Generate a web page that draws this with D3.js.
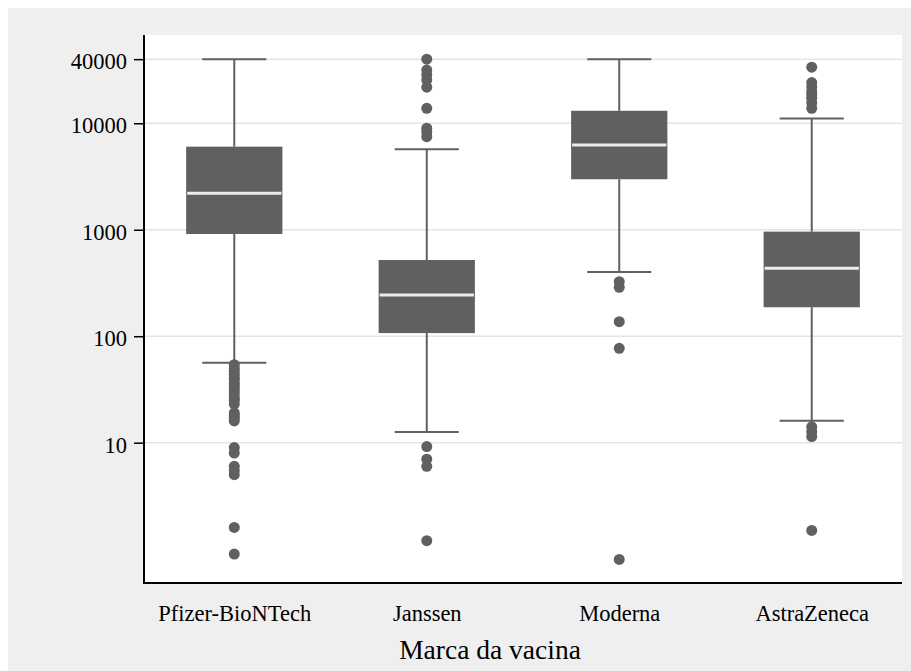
<!DOCTYPE html>
<html><head><meta charset="utf-8">
<script src="https://cdn.jsdelivr.net/npm/d3@7"></script>
<style>html,body{margin:0;padding:0;background:#fff;}svg{display:block;}</style>
</head><body>
<svg id="chart" width="911" height="671"></svg>
<script>
const categories = ["Pfizer-BioNTech", "Janssen", "Moderna", "AstraZeneca"];
const whiskerLow  = [56.4, 12.6, 401, 16.1];
const q1          = [912, 107, 2980, 187];
const median      = [2200, 244, 6250, 435];
const q3          = [6030, 520, 13100, 960];
const whiskerHigh = [40000, 5700, 40000, 11100];
const outliers = [
  [54, 50, 47, 44, 41, 39, 36, 34, 32, 30, 28, 26, 25, 23, 19, 18, 17, 16, 9, 8, 6, 5.5, 5, 1.6, 0.9],
  [40000, 31600, 28400, 25500, 21800, 13800, 8980, 8280, 7480, 9.2, 7.0, 6.0, 1.2],
  [325, 288, 137, 77, 0.8],
  [33600, 24100, 21900, 19800, 18400, 17200, 15500, 13800, 14.1, 12.7, 11.4, 1.5]
];
const yTicks = [10, 100, 1000, 10000, 40000];
const xTitle = "Marca da vacina";

(function () {
const svg = d3.select("#chart");
const W = 911, H = 671;
const pL = 144, pR = 902, pT = 35, pB = 583;
const boxColor = "#606060";
const font = "'Liberation Serif', 'Times New Roman', serif";

svg.append("rect").attr("x", 8).attr("y", 8).attr("width", W - 8).attr("height", H - 8).attr("fill", "#efefef");
svg.append("rect").attr("x", pL).attr("y", pT).attr("width", pR - pL).attr("height", pB - pT).attr("fill", "#fff");

const y = d3.scaleLog().domain([0.481, 67450]).range([pB, pT]);
const x = d3.scalePoint().domain(categories).range([pL, pR]).padding(0.469);
const step = x.step();
const boxW = step * 0.5, capW = step * 0.333;

svg.append("g").selectAll("line").data(yTicks).join("line")
  .attr("x1", pL).attr("x2", pR)
  .attr("y1", d => y(d)).attr("y2", d => y(d))
  .attr("stroke", "#e4e4e4").attr("stroke-width", 1.5);

const data = categories.map((c, i) => ({c, lo: whiskerLow[i], q1: q1[i], med: median[i], q3: q3[i], hi: whiskerHigh[i], out: outliers[i]}));

const g = svg.append("g");
const bx = g.selectAll("g.box").data(data).join("g").attr("class", "box");
bx.append("line").attr("x1", d => x(d.c)).attr("x2", d => x(d.c))
  .attr("y1", d => y(d.hi)).attr("y2", d => y(d.q3)).attr("stroke", boxColor).attr("stroke-width", 2);
bx.append("line").attr("x1", d => x(d.c)).attr("x2", d => x(d.c))
  .attr("y1", d => y(d.q1)).attr("y2", d => y(d.lo)).attr("stroke", boxColor).attr("stroke-width", 2);
bx.append("line").attr("x1", d => x(d.c) - capW / 2).attr("x2", d => x(d.c) + capW / 2)
  .attr("y1", d => y(d.hi)).attr("y2", d => y(d.hi)).attr("stroke", boxColor).attr("stroke-width", 2);
bx.append("line").attr("x1", d => x(d.c) - capW / 2).attr("x2", d => x(d.c) + capW / 2)
  .attr("y1", d => y(d.lo)).attr("y2", d => y(d.lo)).attr("stroke", boxColor).attr("stroke-width", 2);
bx.append("rect").attr("x", d => x(d.c) - boxW / 2).attr("width", boxW)
  .attr("y", d => y(d.q3)).attr("height", d => y(d.q1) - y(d.q3))
  .attr("fill", boxColor);
bx.append("line").attr("x1", d => x(d.c) - boxW / 2 + 1).attr("x2", d => x(d.c) + boxW / 2 - 1)
  .attr("y1", d => y(d.med)).attr("y2", d => y(d.med)).attr("stroke", "#ececec").attr("stroke-width", 3);
bx.selectAll("circle").data(d => d.out.map(v => ({c: d.c, v}))).join("circle")
  .attr("cx", d => x(d.c)).attr("cy", d => y(d.v)).attr("r", 5.5).attr("fill", boxColor);

const yAxis = d3.axisLeft(y).tickValues(yTicks).tickFormat(d3.format("d")).tickSize(10).tickPadding(7);
const ya = svg.append("g").attr("transform", `translate(${pL},0)`).call(yAxis);
ya.select(".domain").remove();
ya.selectAll(".tick line").attr("stroke", "#000").attr("stroke-width", 1.5);
ya.selectAll(".tick text").attr("font-family", font).attr("font-size", 22.5).attr("fill", "#000").attr("dy", "0.42em");
svg.append("line").attr("x1", pL).attr("x2", pL).attr("y1", pT).attr("y2", pB + 1).attr("stroke", "#000").attr("stroke-width", 2);

const xAxis = d3.axisBottom(x).tickSize(0).tickPadding(22);
const xa = svg.append("g").attr("transform", `translate(0,${pB})`).call(xAxis);
xa.select(".domain").remove();
xa.selectAll(".tick text").attr("font-family", font).attr("font-size", 22.5).attr("fill", "#000");
svg.append("line").attr("x1", pL - 1).attr("x2", pR).attr("y1", pB).attr("y2", pB).attr("stroke", "#000").attr("stroke-width", 2);

svg.append("text").attr("x", 490).attr("y", 659)
  .attr("text-anchor", "middle").attr("font-family", font).attr("font-size", 27.5).attr("fill", "#000").text(xTitle);
})();
</script>
</body></html>
